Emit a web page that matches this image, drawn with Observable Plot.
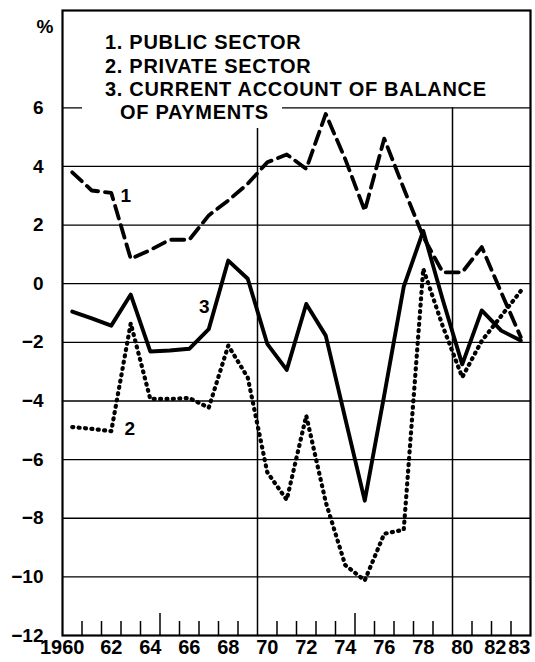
<!DOCTYPE html>
<html><head><meta charset="utf-8">
<script src="https://cdn.jsdelivr.net/npm/d3@7"></script>
<script src="https://cdn.jsdelivr.net/npm/@observablehq/plot@0.6"></script>
<style>
html,body{margin:0;padding:0;background:#fff;}
#wrap{position:relative;width:535px;height:662px;font-family:"Liberation Sans",Arial,sans-serif;font-weight:bold;color:#000;}
#wrap svg{display:block;}
#legbg{position:absolute;left:82px;top:28px;width:200px;height:100px;background:#fff;}
#leg{position:absolute;left:105px;top:31.4px;font-size:20px;line-height:23.33px;letter-spacing:0.7px;white-space:nowrap;}
#leg div:last-child{padding-left:15px;}
</style></head><body><div id="wrap"></div>
<script>
// Years (each value plotted at the middle of its year)
const years = [1960,1961,1962,1963,1964,1965,1966,1967,1968,1969,1970,1971,1972,1973,1974,1975,1976,1977,1978,1979,1980,1981,1982,1983];
// 1. Public sector (%)
const publicSector = [3.8,3.18,3.1,0.85,1.15,1.5,1.5,2.33,2.84,3.41,4.14,4.41,3.92,5.79,4.25,2.49,4.95,3.25,1.6,0.39,0.39,1.25,-0.3,-1.82];
// 2. Private sector (%)
const privateSector = [-4.89,-4.95,-5.03,-1.35,-3.93,-3.93,-3.9,-4.23,-2.11,-3.2,-6.43,-7.37,-4.5,-7.45,-9.6,-10.12,-8.53,-8.39,0.51,-1.45,-3.19,-1.95,-1.1,-0.25];
// 3. Current account of balance of payments (%)
const currentAccount = [-0.95,-1.18,-1.43,-0.37,-2.31,-2.28,-2.22,-1.55,0.79,0.17,-2.05,-2.94,-0.69,-1.77,-4.6,-7.4,-3.8,-0.1,1.8,-0.55,-2.75,-0.91,-1.6,-1.94];

const yTicks = [-12,-10,-8,-6,-4,-2,0,2,4,6];
const yGrid = [-10,-8,-6,-4,-2,0,2,4,6];
const xGridYears = [1970,1980];
const minorTickYears = [1961,1962,1963,1964,1966,1967,1968,1969,1971,1972,1973,1974,1976,1977,1978,1979,1981,1982,1983];
const majorTickYears = [1965,1975];
const xLabelYears = [1962,1964,1966,1968,1970,1972,1974,1976,1978,1980];
const xLabelTexts = ["62","64","66","68","70","72","74","76","78","80"];
const firstLabel = {year:1960, text:"1960"};
const lastLabels = [{year:1982, text:"82"}, {year:1983, text:"83"}];
const legendLabels = ["1. PUBLIC SECTOR","2. PRIVATE SECTOR","3. CURRENT ACCOUNT OF BALANCE","OF PAYMENTS"];
const seriesTags = [
  {text:"1", series:publicSector, year:1962},
  {text:"2", series:privateSector, year:1962},
  {text:"3", series:currentAccount, year:1967}
];

const rows = (vals) => years.map((y,i) => ({x: y + 0.5, v: vals[i]}));
const pub = rows(publicSector), pri = rows(privateSector), cur = rows(currentAccount);
const tagPt = t => ({x: t.year + 0.5, v: t.series[years.indexOf(t.year)], text: t.text});

const W = 535, H = 662, mTop = 10, mBottom = 27;
const frameH = H - mTop - mBottom;
const lbl = {frameAnchor: "bottom", dy: 18.5, fontSize: 20, fontWeight: "bold", letterSpacing: 0.8};

const chart = Plot.plot({
  width: W, height: H,
  marginLeft: 62, marginRight: 5, marginTop: mTop, marginBottom: mBottom,
  style: {fontFamily: "'Liberation Sans', Arial, sans-serif", fontWeight: "bold", fontSize: "20px", background: "#fff", color: "#000", overflow: "visible"},
  x: {domain: [1960, 1984], axis: null},
  y: {domain: [-12, 9.32], axis: null},
  marks: [
    Plot.ruleY(yGrid, {stroke: "#000", strokeWidth: 1.3}),
    Plot.ruleX(xGridYears, {y1: -12, y2: 6, stroke: "#000", strokeWidth: 1.5}),
    Plot.tickX(minorTickYears, {x: d => d, insetTop: frameH - 14, stroke: "#000", strokeWidth: 1.5}),
    Plot.tickX(majorTickYears, {x: d => d, insetTop: frameH - 22, stroke: "#000", strokeWidth: 1.5}),
    Plot.axisY({ticks: yTicks, label: null, tickSize: 0, tickPadding: 19, fontSize: 19, fontWeight: "bold", tickFormat: d3.format("d")}),
    Plot.text(["%"], {frameAnchor: "top-left", dx: -26, dy: 9, fontSize: 19, fontWeight: "bold"}),
    Plot.text(xLabelYears, {x: d => d + 0.5, text: (d, i) => xLabelTexts[i], ...lbl}),
    Plot.text([firstLabel], {x: d => d.year + 0.5, text: "text", ...lbl, dx: -10}),
    Plot.text([lastLabels[0]], {x: d => d.year + 0.5, text: "text", ...lbl, dx: -6}),
    Plot.text([lastLabels[1]], {x: d => d.year + 0.5, text: "text", ...lbl, dx: -1.5}),
    Plot.frame({stroke: "#000", strokeWidth: 2.2}),
    Plot.line(pub, {x: "x", y: "v", stroke: "#000", strokeWidth: 3.8, strokeDasharray: "13,7", strokeLinejoin: "round"}),
    Plot.line(pri, {x: "x", y: "v", stroke: "#000", strokeWidth: 4.2, strokeDasharray: "1,5.4", strokeLinecap: "round", strokeLinejoin: "round"}),
    Plot.line(cur, {x: "x", y: "v", stroke: "#000", strokeWidth: 3.9, strokeLinejoin: "round"}),
    Plot.text([tagPt(seriesTags[0])], {x: "x", y: "v", text: "text", dx: 14.5, dy: 3, fontSize: 19, fontWeight: "bold"}),
    Plot.text([tagPt(seriesTags[1])], {x: "x", y: "v", text: "text", dx: 18.5, dy: -2.5, fontSize: 19, fontWeight: "bold"}),
    Plot.text([tagPt(seriesTags[2])], {x: "x", y: "v", text: "text", dx: -4.5, dy: -22, fontSize: 19, fontWeight: "bold"})
  ]
});

const wrap = document.getElementById("wrap");
wrap.appendChild(chart);
const bg = document.createElement("div"); bg.id = "legbg"; wrap.appendChild(bg);
const leg = document.createElement("div"); leg.id = "leg";
legendLabels.forEach(t => { const d = document.createElement("div"); d.textContent = t; leg.appendChild(d); });
wrap.appendChild(leg);
</script>
</body></html>
